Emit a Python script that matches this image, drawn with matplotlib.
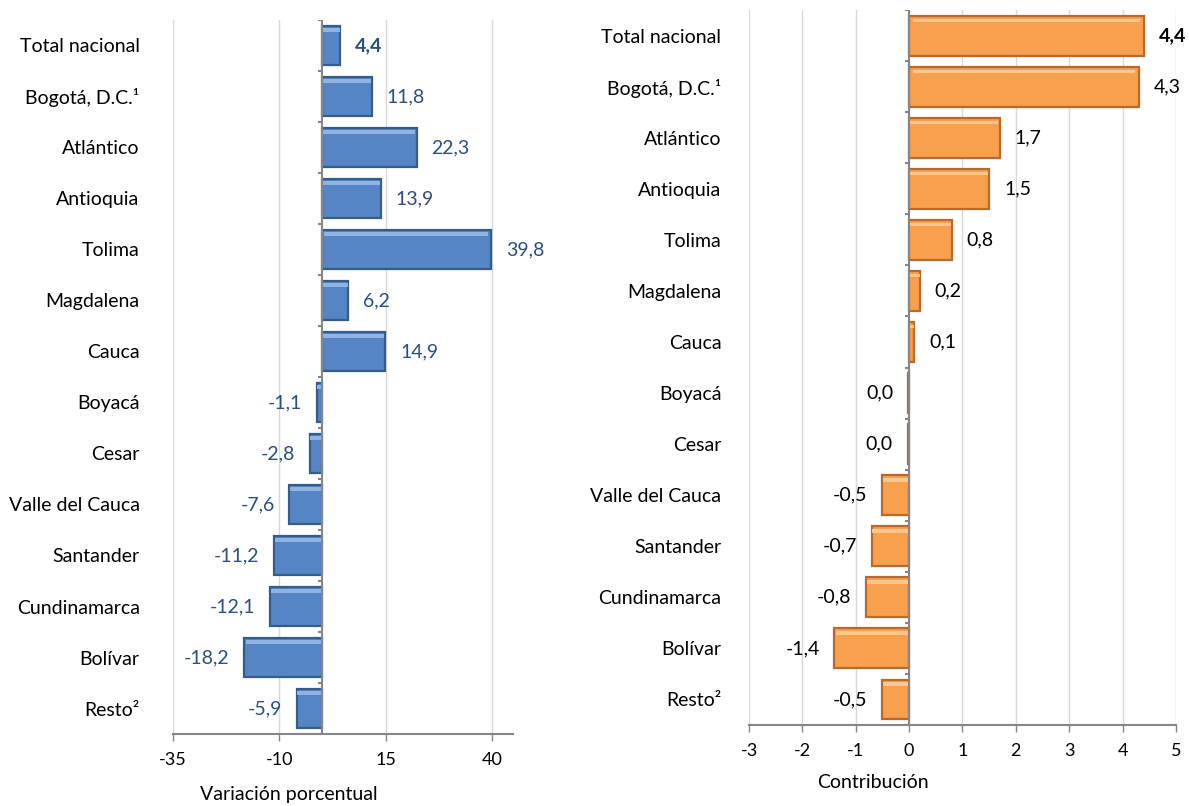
import matplotlib
matplotlib.use("Agg")
import matplotlib.pyplot as plt
import numpy as np

plt.rcParams["font.family"] = ["Lato", "DejaVu Sans"]

# ─── data ────────────────────────────────────────────────────────────────────
categories = ["Total nacional", "Bogotá, D.C.¹", "Atlántico", "Antioquia", "Tolima",
              "Magdalena", "Cauca", "Boyacá", "Cesar", "Valle del Cauca",
              "Santander", "Cundinamarca", "Bolívar", "Resto²"]
variacion = [4.4, 11.8, 22.3, 13.9, 39.8, 6.2, 14.9, -1.1, -2.8, -7.6,
             -11.2, -12.1, -18.2, -5.9]
contribucion = [4.4, 4.3, 1.7, 1.5, 0.8, 0.2, 0.1, -0.02, -0.03, -0.5,
                -0.7, -0.8, -1.4, -0.5]
contrib_labels = ["4,4", "4,3", "1,7", "1,5", "0,8", "0,2", "0,1", "0,0", "0,0",
                  "-0,5", "-0,7", "-0,8", "-1,4", "-0,5"]
var_ticks = [-35, -10, 15, 40]
con_ticks = [-3, -2, -1, 0, 1, 2, 3, 4, 5]


def fmt(v):
    return f"{v:.1f}".replace(".", ",")


def panel(ax, values, labels, ticks, xlim, face, light, edge, txtcolor, off,
          xlabel, lab_x, lab_y, pad):
    y = np.arange(len(categories))
    ax.barh(y, values, height=0.78, color=face, edgecolor=edge, linewidth=1.6, zorder=3)
    # light bevel stripe along the top of each bar
    ax.barh(y - 0.30, np.array(values) * 0.97, height=0.07, left=np.array(values) * 0.015,
            color=light, linewidth=0, zorder=4)
    ax.set_xlim(*xlim)
    ax.set_ylim(len(categories) - 0.5, -0.5)
    ax.set_yticks(y)
    ax.set_yticklabels(categories, fontsize=14)
    ax.tick_params(axis="y", length=0, pad=pad)
    ax.set_xticks(ticks)
    ax.set_xticklabels([str(t) for t in ticks], fontsize=13)
    ax.tick_params(axis="x", length=5, width=1, color="#868686", pad=8)
    ax.grid(axis="x", color="#d9d9d9", lw=1, zorder=0)
    for s in ["top", "right", "left"]:
        ax.spines[s].set_visible(False)
    ax.spines["bottom"].set_color("#868686")
    ax.spines["bottom"].set_linewidth(1.5)
    # category axis drawn at zero, Excel style
    ax.axvline(0, color="#868686", lw=1.5, zorder=5)
    bounds = np.arange(len(categories) + 1) - 0.5
    ax.hlines(bounds, -off * 0.25, 0, color="#868686", lw=1.5, zorder=5)
    for i, (v, lab) in enumerate(zip(values, labels)):
        weight = "bold" if i == 0 else "normal"
        if v >= 0:
            ax.text(v + off, i, lab, ha="left", va="center", fontsize=14,
                    color=txtcolor, fontweight=weight)
        else:
            ax.text(v - off, i, lab, ha="right", va="center", fontsize=14,
                    color=txtcolor, fontweight=weight)
    ax.set_xlabel(xlabel, fontsize=14)
    ax.xaxis.set_label_coords(lab_x, lab_y)


fig = plt.figure(figsize=(11.89, 8.06), dpi=100)
ax1 = fig.add_axes([0.1455, 0.0893, 0.286, 0.886])
ax2 = fig.add_axes([0.630, 0.1005, 0.359, 0.887])

panel(ax1, variacion, [fmt(v) for v in variacion], var_ticks, (-35, 45),
      "#5585c5", "#8fb3e3", "#355d8c", "#2a4f80", 3.5,
      "Variación porcentual", 0.34, -0.073, 24)
panel(ax2, contribucion, contrib_labels, con_ticks, (-3, 5),
      "#f9a04e", "#fcc78f", "#b8692c", "black", 0.28,
      "Contribución", 0.29, -0.068, 20)

fig.savefig("out.png", dpi=100)
